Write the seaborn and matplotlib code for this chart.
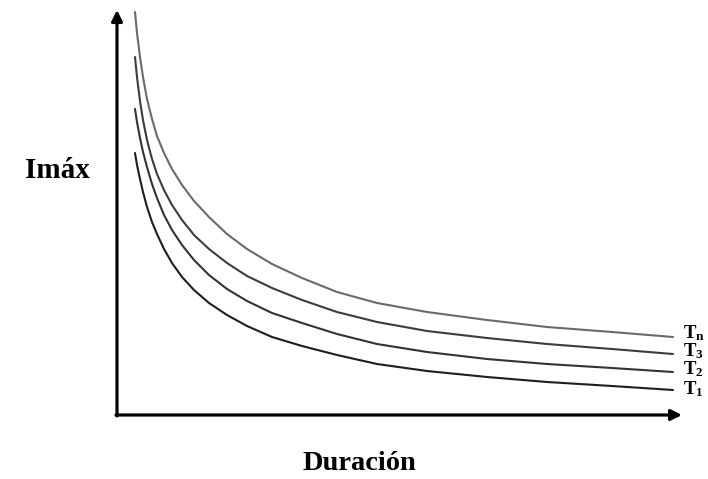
"""
Curvas IDF esquematicas: Imax vs Duracion para varios periodos de retorno.
"""
import pandas as pd
import matplotlib
matplotlib.use("Agg")
import matplotlib.pyplot as plt
import seaborn as sns

# datos (duracion, intensidad en unidades arbitrarias)
duracion = [18, 20, 23, 26, 30, 35, 40, 47, 55, 65, 77, 92, 110, 130, 155,
            185, 220, 260, 310, 370, 430, 495, 556]
imax_tn = [403, 382, 358, 338, 316, 296, 279, 262, 246, 230, 214, 198, 181,
           166, 151, 137, 123, 112, 103, 95, 88, 83, 78]
imax_t3 = [358, 338, 314, 295, 275, 256, 241, 225, 210, 195, 180, 166, 152,
           139, 127, 115, 103, 93, 84, 77, 71, 66, 61]
imax_t2 = [306, 293, 277, 263, 248, 231, 217, 200, 185, 170, 155, 140, 126,
           114, 102, 92, 81, 71, 63, 56, 51, 47, 43]
imax_t1 = [262, 250, 236, 223, 208, 193, 181, 166, 152, 138, 125, 112, 100,
           89, 78, 69, 60, 51, 44, 38, 33, 29, 25]

periodos = ["T1", "T2", "T3", "Tn"]
etiquetas = [r"$\mathrm{T_1}$", r"$\mathrm{T_2}$", r"$\mathrm{T_3}$", r"$\mathrm{T_n}$"]
colores = ["#1e1e1e", "#333333", "#3c3c3c", "#6a6a6a"]


def build_df():
    partes = []
    for p, i in zip(periodos, [imax_t1, imax_t2, imax_t3, imax_tn]):
        partes.append(pd.DataFrame({"duracion": duracion, "imax": i, "periodo": p}))
    return pd.concat(partes, ignore_index=True)


def main():
    sns.set_theme(style="white")
    plt.rcParams["font.family"] = ["Liberation Serif", "DejaVu Serif"]
    plt.rcParams["text.color"] = "black"
    plt.rcParams["mathtext.fontset"] = "custom"
    plt.rcParams["mathtext.rm"] = "Liberation Serif:bold"
    plt.rcParams["mathtext.it"] = "Liberation Serif:bold"
    plt.rcParams["mathtext.bf"] = "Liberation Serif:bold"

    df = build_df()
    W, H = 708, 479
    fig = plt.figure(figsize=(W / 100, H / 100), dpi=100)
    ax = fig.add_axes([117 / W, 64 / H, 591 / W, 415 / H])

    sns.lineplot(data=df, x="duracion", y="imax", hue="periodo", hue_order=periodos,
                 palette=colores, estimator=None, legend=False, linewidth=1.5, ax=ax)

    ax.set_xlim(0, 591)
    ax.set_ylim(0, 415)
    for s in ax.spines.values():
        s.set_visible(False)
    ax.set_xticks([])
    ax.set_yticks([])
    ax.set_xlabel("")
    ax.set_ylabel("")

    # ejes con flecha
    flecha = dict(arrowstyle="-|>", lw=2.3, color="black", mutation_scale=16,
                  shrinkA=0, shrinkB=0)
    ax.annotate("", xy=(0, 405), xytext=(0, -1), arrowprops=flecha, annotation_clip=False)
    ax.annotate("", xy=(565, 0), xytext=(-1, 0), arrowprops=flecha, annotation_clip=False)

    # etiquetas de cada curva
    finales = [imax_t1[-1], imax_t2[-1], imax_t3[-1], imax_tn[-1]]
    ajustes = [-2, 0, 0, 1]
    for etq, yv, dy in zip(etiquetas, finales, ajustes):
        ax.text(566, yv + dy + 3, etq, fontsize=13.5, ha="left", va="center",
                color="black", clip_on=False)

    fig.text(57 / W, 1 - 170 / H, "Imáx", fontsize=21, fontweight="bold",
             ha="center", va="center", color="black")
    fig.text(359 / W, 1 - 463 / H, "Duración", fontsize=20.5, fontweight="bold",
             ha="center", va="center", color="black")

    fig.savefig("out.png", dpi=100, facecolor="white")


if __name__ == "__main__":
    main()
